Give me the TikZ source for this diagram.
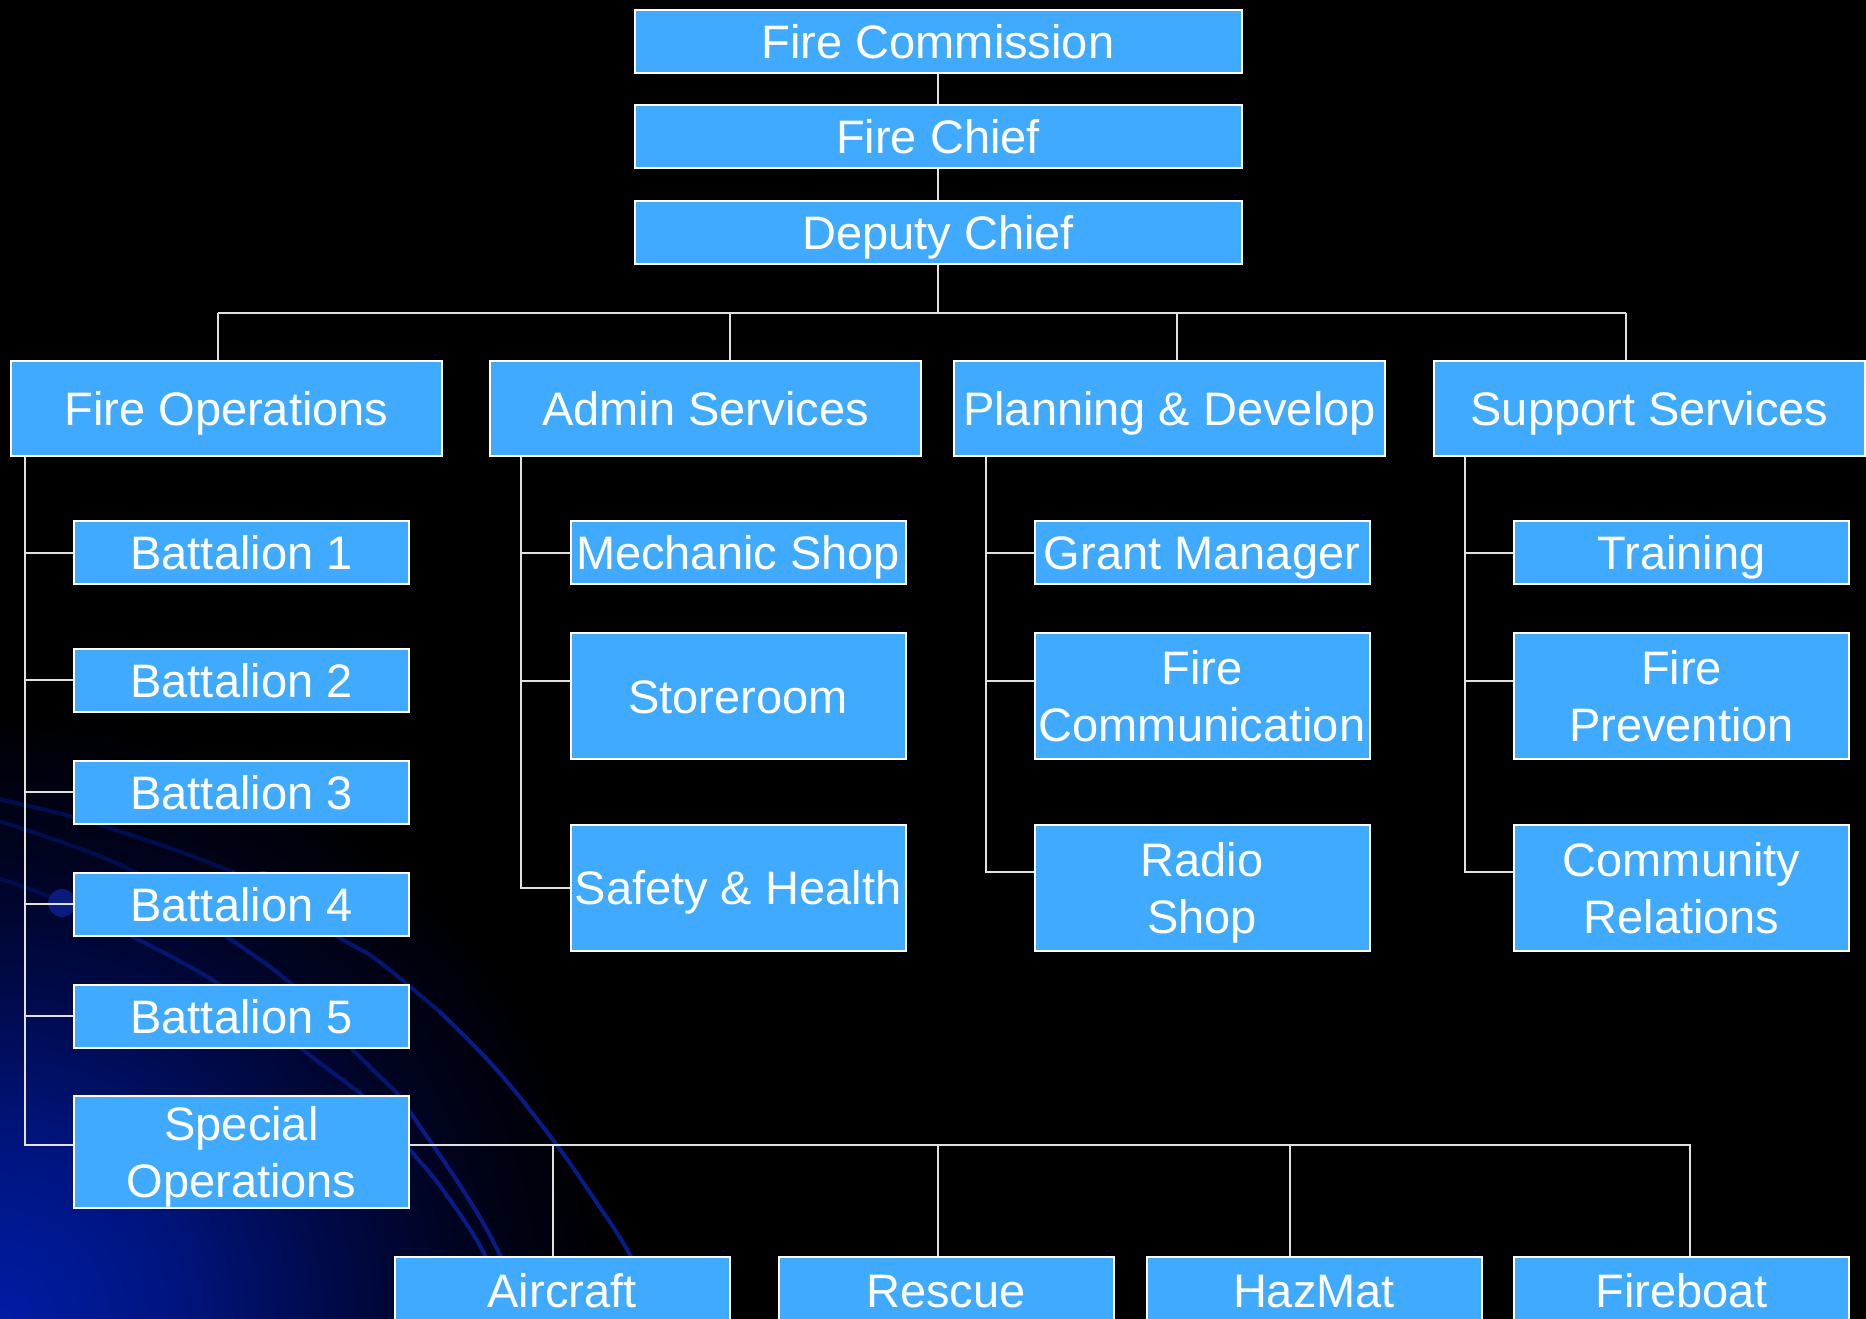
\documentclass[tikz,border=0pt]{standalone}
\usepackage{fontspec}
\setmainfont{Liberation Sans}
\usetikzlibrary{calc}
\definecolor{boxblue}{RGB}{64,170,255}
\definecolor{arcdark}{RGB}{0,14,80}
\definecolor{arcmid}{RGB}{4,22,112}
\definecolor{arcblue}{RGB}{8,28,135}
\definecolor{dotblue}{RGB}{10,26,125}
\definecolor{conncol}{RGB}{225,225,225}
\definecolor{gA}{RGB}{0,28,165}
\definecolor{gB}{RGB}{0,20,125}
\definecolor{gC}{RGB}{0,10,75}
\definecolor{gD}{RGB}{0,3,30}
\pgfdeclareradialshading{cornerglow}{\pgfpoint{0bp}{0bp}}{color(0bp)=(gA); color(5bp)=(gB); color(9bp)=(gC); color(13bp)=(gD); color(17bp)=(black); color(50bp)=(black)}
\begin{document}
\begin{tikzpicture}[x=1pt,y=-1pt,
  box/.style={draw=white, line width=2pt, fill=boxblue, text=white, inner sep=0pt,
    font=\fontsize{47}{57}\selectfont, align=center, text height=34pt, text depth=0pt},
  twoline/.style={box, text height=91pt, text depth=0pt},
  lvl1/.style={box, minimum width=607pt, minimum height=63pt},
  lvl2/.style={box, minimum width=431pt, minimum height=95pt},
  small/.style={box, minimum width=335pt, minimum height=63pt},
  tall/.style={twoline, minimum width=335pt, minimum height=126pt},
  talls/.style={box, minimum width=335pt, minimum height=126pt},
  bottom/.style={box, minimum width=335pt, minimum height=66pt},
  conn/.style={draw=conncol, line width=2pt},
  arcline/.style={line width=4pt, line cap=round}]
\useasboundingbox (0,0) rectangle (1866,1319);
\clip (0,0) rectangle (1866,1319);
% background
\fill[black] (0,0) rectangle (1866,1319);
\shade[shading=cornerglow] (0,1319) circle [radius=900pt];
% outer arc
\draw[arcline, draw=arcdark] plot[smooth, tension=0.6] coordinates {(-20,795) (73,817) (167,847) (233,872)};
\draw[arcline, draw=arcmid] plot[smooth, tension=0.6] coordinates {(233,872) (340,938) (377,960) (440,1012)};
\draw[arcline, draw=arcblue] plot[smooth, tension=0.6] coordinates {(440,1012) (497,1070) (553,1140) (597,1203) (630,1255) (665,1330)};
% middle arc
\draw[arcline, draw=arcdark] plot[smooth, tension=0.6] coordinates {(-20,815) (127,868) (227,937)};
\draw[arcline, draw=arcmid] plot[smooth, tension=0.6] coordinates {(227,937) (290,983) (353,1050) (397,1093)};
\draw[arcline, draw=arcblue] plot[smooth, tension=0.6] coordinates {(397,1093) (410,1112) (463,1190) (500,1255) (530,1330)};
% inner arc
\draw[arcline, draw=arcdark] plot[smooth, tension=0.6] coordinates {(-20,872) (50,897) (133,937)};
\draw[arcline, draw=arcmid] plot[smooth, tension=0.6] coordinates {(133,937) (217,983) (303,1050) (360,1093)};
\draw[arcline, draw=arcblue] plot[smooth, tension=0.6] coordinates {(360,1093) (410,1150) (443,1190) (485,1255) (515,1330)};
\fill[dotblue] (62,903) circle [radius=14pt];
\fill[dotblue] (263,885) circle [radius=14pt];
% nodes
\node[lvl1] (fc) at (938,41.5) {Fire Commission};
\node[lvl1] (fch) at (938,136.5) {Fire Chief};
\node[lvl1] (dc) at (938,232.5) {Deputy Chief};
\node[lvl2] (fo) at (226.5,408.5) {Fire Operations};
\node[lvl2] (as) at (705.5,408.5) {Admin Services};
\node[lvl2] (pd) at (1169.5,408.5) {Planning \& Develop};
\node[lvl2] (ss) at (1649.5,408.5) {Support Services};
\node[small] (b1) at (241.5,552.5) {Battalion 1};
\node[small] (b2) at (241.5,680) {Battalion 2};
\node[small] (b3) at (241.5,792) {Battalion 3};
\node[small] (b4) at (241.5,904) {Battalion 4};
\node[small] (b5) at (241.5,1016) {Battalion 5};
\node[twoline, minimum width=335pt, minimum height=112pt] (so) at (241.5,1152) {Special\\Operations};
\node[small] (ms) at (738,552.5) {Mechanic Shop};
\node[talls] (st) at (738,696.2) {Storeroom};
\node[talls] (sh) at (738,887.8) {Safety \& Health};
\node[small] (gm) at (1202,552.5) {Grant Manager};
\node[tall] (fcm) at (1202,696.2) {Fire\\Communication};
\node[tall] (rs) at (1202,887.8) {Radio\\Shop};
\node[small] (tr) at (1681.5,552.5) {Training};
\node[tall] (fp) at (1681.5,696.2) {Fire\\Prevention};
\node[tall] (cr) at (1681.5,887.8) {Community\\Relations};
\node[bottom] (ac) at (562,1290) {Aircraft};
\node[bottom] (rc) at (946,1290) {Rescue};
\node[bottom] (hz) at (1314,1290) {HazMat};
\node[bottom] (fb) at (1681.5,1290) {Fireboat};
% top chain
\draw[conn] (fc.south) -- (fch.north);
\draw[conn] (fch.south) -- (dc.north);
\coordinate (busL) at (218,313);
\coordinate (busR) at (1626,313);
\coordinate (dAS) at (730,313);
\coordinate (dPD) at (1177,313);
\draw[conn] (dc.south) -- (dc.south |- busL);
\draw[conn] (busL) -- (busR);
\draw[conn] (busL) -- (busL |- fo.north);
\draw[conn] (dAS) -- (dAS |- as.north);
\draw[conn] (dPD) -- (dPD |- pd.north);
\draw[conn] (busR) -- (busR |- ss.north);
% fire operations
\coordinate (foV) at ($(fo.south west)+(15,0)$);
\coordinate (soS) at ($(so.west)+(0,-7)$);
\draw[conn] (foV) -- (foV |- soS) -- (soS);
\foreach \n in {b1,b2,b3,b4,b5} \draw[conn] (foV |- \n.west) -- (\n.west);
% admin services
\coordinate (asV) at ($(as.south west)+(32,0)$);
\coordinate (stS) at ($(st.west)+(0,-15.5)$);
\draw[conn] (asV) -- (asV |- sh.west) -- (sh.west);
\draw[conn] (asV |- ms.west) -- (ms.west);
\draw[conn] (asV |- stS) -- (stS);
% planning
\coordinate (pdV) at ($(pd.south west)+(33,0)$);
\coordinate (fcmS) at ($(fcm.west)+(0,-15.5)$);
\coordinate (rsS) at ($(rs.west)+(0,-15.5)$);
\draw[conn] (pdV) -- (pdV |- rsS) -- (rsS);
\draw[conn] (pdV |- gm.west) -- (gm.west);
\draw[conn] (pdV |- fcmS) -- (fcmS);
% support
\coordinate (ssV) at ($(ss.south west)+(32,0)$);
\coordinate (fpS) at ($(fp.west)+(0,-15.5)$);
\coordinate (crS) at ($(cr.west)+(0,-15.5)$);
\draw[conn] (ssV) -- (ssV |- crS) -- (crS);
\draw[conn] (ssV |- tr.west) -- (tr.west);
\draw[conn] (ssV |- fpS) -- (fpS);
% special operations
\coordinate (sd1) at (553.4,1145);
\coordinate (sd2) at (938,1145);
\coordinate (sd3) at (1290,1145);
\coordinate (sd4) at (1690,1145);
\draw[conn] (soS -| so.east) -- (sd4) -- (sd4 |- fb.north);
\draw[conn] (sd1) -- (sd1 |- ac.north);
\draw[conn] (sd2) -- (sd2 |- rc.north);
\draw[conn] (sd3) -- (sd3 |- hz.north);
\end{tikzpicture}
\end{document}
